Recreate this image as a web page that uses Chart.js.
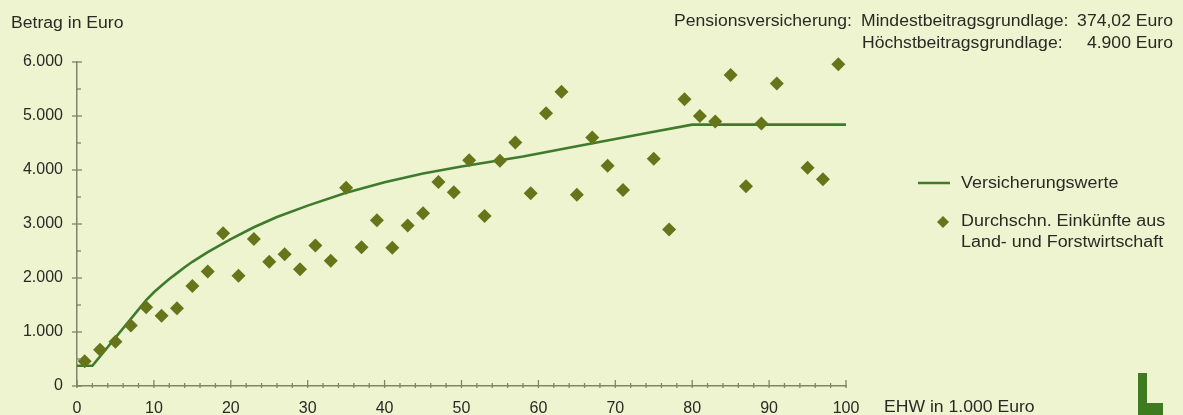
<!DOCTYPE html>
<html lang="de">
<head>
<meta charset="utf-8">
<title>Versicherungswerte</title>
<script src="https://cdn.jsdelivr.net/npm/chart.js@4"></script>
<style>
  html, body { margin: 0; padding: 0; background: #edf4cf; }
  #wrap { width: 1183px; height: 415px; position: relative; }
</style>
</head>
<body>
<div id="wrap"><canvas id="chart" width="1183" height="415"></canvas></div>
<script>
// Durchschn. Einkünfte aus Land- und Forstwirtschaft (EHW in 1.000 Euro / Euro)
const incomeX = [1, 3, 5, 7, 9, 11, 13, 15, 17, 19, 21, 23, 25, 27, 29, 31, 33, 35, 37, 39,
                 41, 43, 45, 47, 49, 51, 53, 55, 57, 59, 61, 63, 65, 67, 69, 71, 75, 77, 79,
                 81, 83, 85, 87, 89, 91, 95, 97, 99];
const incomeY = [460, 670, 820, 1120, 1460, 1300, 1440, 1850, 2120, 2830, 2040, 2720, 2300, 2440, 2160, 2600, 2320, 3670, 2570, 3070,
                 2560, 2970, 3200, 3780, 3590, 4180, 3150, 4170, 4510, 3570, 5050, 5450, 3540, 4600, 4080, 3630, 4210, 2900, 5310,
                 5000, 4900, 5760, 3700, 4860, 5600, 4040, 3830, 5960];

// Versicherungswerte
const insuranceX = [0, 2, 9, 10, 11, 12, 13, 14, 15, 17, 20, 23, 26, 30, 35, 40, 45, 50, 55, 58, 65, 70, 75, 80, 100];
const insuranceY = [374, 374, 1590, 1735, 1860, 1980, 2090, 2200, 2300, 2480, 2720, 2940, 3130, 3340, 3580, 3775, 3935, 4065, 4180, 4250, 4440, 4575, 4710, 4840, 4840];

const yTicks = [0, 1000, 2000, 3000, 4000, 5000, 6000];
const xTicks = [0, 10, 20, 30, 40, 50, 60, 70, 80, 90, 100];

const BG = '#edf4cf';
const AXIS = '#7f8566';
const TEXT = '#2a2a25';
const LINE = '#3f7b2c';
const DOT = '#66751a';
const FONT = '"Liberation Sans", Arial, sans-serif';

const fmt = v => v === 0 ? '0' : v.toLocaleString('de-DE');

// Text etwas in die Breite gezogen wie im Scan
function wideText(c, txt, x, y, align, stretch) {
  c.save();
  c.translate(x, y);
  c.scale(stretch || 1.1, 1);
  c.textAlign = align;
  c.fillText(txt, 0, 0);
  c.restore();
}

// Hintergrund, Zusatztexte, Legende, Nebenstriche
const decor = {
  id: 'decor',
  beforeDraw(chart) {
    const c = chart.ctx;
    c.save();
    c.fillStyle = BG;
    c.fillRect(0, 0, chart.width, chart.height);
    c.restore();
  },
  afterDraw(chart) {
    const c = chart.ctx;
    const xs = chart.scales.x, ys = chart.scales.y;
    const x0 = xs.left, y0 = ys.bottom;
    c.save();
    c.strokeStyle = AXIS;
    c.lineWidth = 1.3;
    // y-Achse: Haupt- und Nebenstriche
    for (let v = 0; v <= 6000; v += 500) {
      const py = ys.getPixelForValue(v);
      c.beginPath();
      if (v % 1000 === 0) { c.moveTo(x0 - 5, py); c.lineTo(x0 + 5, py); }
      else { c.moveTo(x0, py); c.lineTo(x0 + 4, py); }
      c.stroke();
    }
    // x-Achse
    for (let v = 0; v <= 100; v += 2) {
      const px = xs.getPixelForValue(v);
      c.beginPath();
      if (v % 10 === 0) { c.moveTo(px, y0 + 2); c.lineTo(px, y0 - 6); }
      else { c.moveTo(px, y0 + 2); c.lineTo(px, y0 - 3); }
      c.stroke();
    }

    c.fillStyle = TEXT;
    c.textBaseline = 'middle';
    c.font = '16px ' + FONT;
    wideText(c, 'Betrag in Euro', 11, 24, 'left');
    wideText(c, 'EHW in 1.000 Euro', 884, 408, 'left');

    wideText(c, 'Pensionsversicherung:', 852, 22, 'right');
    wideText(c, 'Mindestbeitragsgrundlage:', 861, 22, 'left');
    wideText(c, 'Höchstbeitragsgrundlage:', 862, 44, 'left');
    wideText(c, '374,02 Euro', 1173, 22, 'right');
    wideText(c, '4.900 Euro', 1173, 44, 'right');

    // Legende
    c.strokeStyle = LINE;
    c.lineWidth = 2.5;
    c.beginPath(); c.moveTo(918, 183); c.lineTo(950, 183); c.stroke();
    wideText(c, 'Versicherungswerte', 961, 184, 'left', 1.12);
    c.fillStyle = DOT;
    c.beginPath();
    c.moveTo(943, 216); c.lineTo(949, 222); c.lineTo(943, 228); c.lineTo(937, 222);
    c.closePath(); c.fill();
    c.fillStyle = TEXT;
    wideText(c, 'Durchschn. Einkünfte aus', 961, 222, 'left', 1.12);
    wideText(c, 'Land- und Forstwirtschaft', 961, 243, 'left', 1.12);

    // Logo
    c.fillStyle = '#3e7a1f';
    c.fillRect(1138, 373, 9, 42);
    c.fillRect(1138, 403, 25, 12);
    c.restore();
  }
};

new Chart(document.getElementById('chart'), {
  type: 'scatter',
  data: {
    datasets: [
      {
        label: 'Versicherungswerte',
        data: insuranceX.map((x, i) => ({ x, y: insuranceY[i] })),
        showLine: true,
        borderColor: LINE,
        borderWidth: 2.6,
        pointRadius: 0,
        tension: 0,
        order: 2
      },
      {
        label: 'Durchschn. Einkünfte aus Land- und Forstwirtschaft',
        data: incomeX.map((x, i) => ({ x, y: incomeY[i] })),
        pointStyle: 'rectRot',
        pointRadius: 7,
        backgroundColor: DOT,
        borderColor: DOT,
        borderWidth: 0,
        clip: false,
        order: 1
      }
    ]
  },
  options: {
    responsive: false,
    animation: false,
    devicePixelRatio: 1,
    layout: { padding: { left: 0, right: 337, top: 62, bottom: 0 } },
    plugins: { legend: { display: false }, tooltip: { enabled: false } },
    scales: {
      x: {
        type: 'linear',
        min: 0, max: 100,
        afterBuildTicks: s => { s.ticks = xTicks.map(v => ({ value: v })); },
        afterFit: s => { s.height = 29; },
        grid: { display: true, drawOnChartArea: false, drawTicks: false },
        border: { display: true, color: AXIS, width: 1.5 },
        ticks: { color: TEXT, font: { family: FONT, size: 16 }, padding: 13, maxRotation: 0 }
      },
      y: {
        min: 0, max: 6000,
        afterBuildTicks: s => { s.ticks = yTicks.map(v => ({ value: v })); },
        afterFit: s => { s.width = 77; },
        grid: { display: true, drawOnChartArea: false, drawTicks: false },
        border: { display: true, color: AXIS, width: 1.5 },
        ticks: { color: TEXT, font: { family: FONT, size: 16 }, padding: 14, callback: v => fmt(v) }
      }
    }
  },
  plugins: [decor]
});
</script>
</body>
</html>
